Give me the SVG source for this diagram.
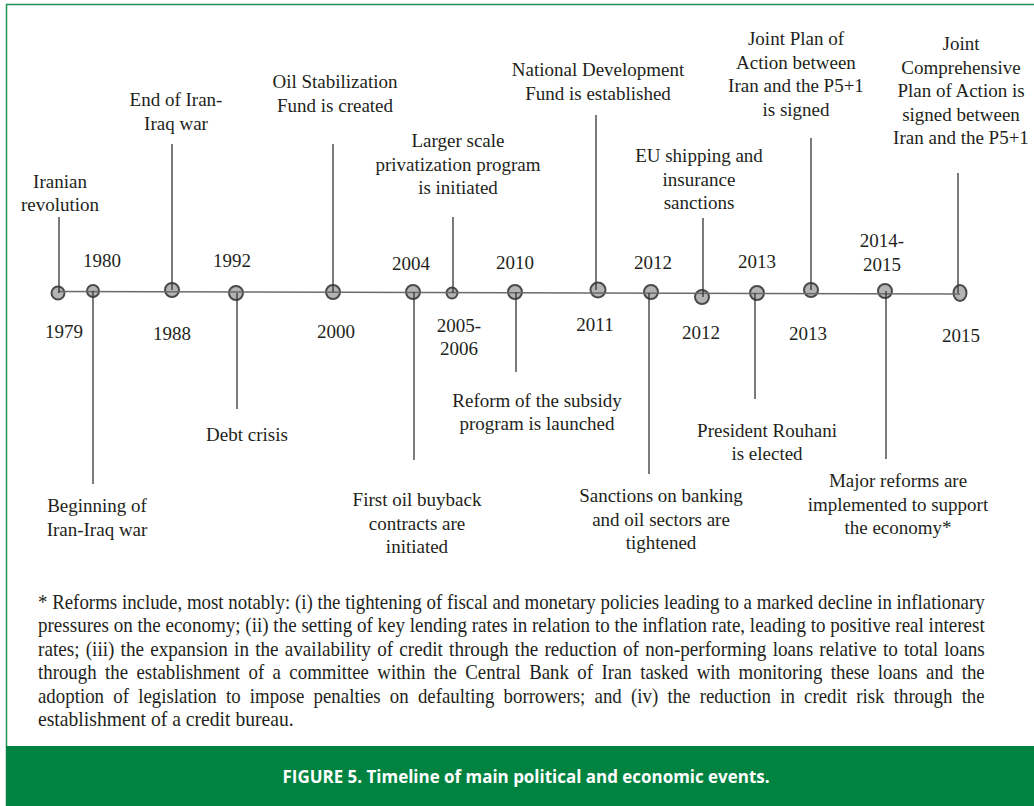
<svg xmlns="http://www.w3.org/2000/svg" width="1034" height="806" viewBox="0 0 1034 806">
  <style>
    .lbl { font-family: "Liberation Serif", "Times New Roman", serif; font-size: 19px; fill: #231f20; text-anchor: middle; }
    .note { font-family: "Liberation Serif", "Times New Roman", serif; font-size: 20.5px; fill: #231f20; }
    .cap { font-family: "Liberation Sans Narrow", "Open Sans", "Liberation Sans", sans-serif; font-size: 18px; font-weight: bold; fill: #ffffff; text-anchor: middle; }
    .dot { fill: #b3b4b6; stroke: #4a4a4a; stroke-width: 2; }
    .stem { stroke: #333333; stroke-width: 1.3; fill: none; }
    .axis { stroke: #6a6a6a; stroke-width: 1.6; fill: none; }
  </style>

  <!-- page background and green frame -->
  <rect x="0" y="0" width="1034" height="806" fill="#ffffff"/>
  <path d="M6.5,806 V4.5 H1034" fill="none" stroke="#1e9452" stroke-width="1.5"/>

  <!-- timeline events -->
  <g id="nodes">
    <g id="ev-1979">
      <circle class="dot" cx="58" cy="293" r="6.5"/>
      <text class="lbl" x="64" y="338">1979</text>
      <text class="lbl" x="60" y="188">Iranian</text>
      <text class="lbl" x="60" y="211">revolution</text>
    </g>
    <g id="ev-1980">
      <circle class="dot" cx="93" cy="291" r="6"/>
      <text class="lbl" x="102" y="267">1980</text>
      <text class="lbl" x="97" y="512">Beginning of</text>
      <text class="lbl" x="97" y="536">Iran-Iraq war</text>
    </g>
    <g id="ev-1988">
      <circle class="dot" cx="172" cy="290" r="7"/>
      <text class="lbl" x="172" y="340">1988</text>
      <text class="lbl" x="176" y="106">End of Iran-</text>
      <text class="lbl" x="176" y="130">Iraq war</text>
    </g>
    <g id="ev-1992">
      <circle class="dot" cx="236" cy="293" r="7"/>
      <text class="lbl" x="232" y="267">1992</text>
      <text class="lbl" x="247" y="441">Debt crisis</text>
    </g>
    <g id="ev-2000">
      <circle class="dot" cx="333" cy="292" r="7"/>
      <text class="lbl" x="336" y="338">2000</text>
      <text class="lbl" x="335" y="88">Oil Stabilization</text>
      <text class="lbl" x="335" y="112">Fund is created</text>
    </g>
    <g id="ev-2004">
      <circle class="dot" cx="413" cy="292" r="7"/>
      <text class="lbl" x="411" y="270">2004</text>
      <text class="lbl" x="417" y="506">First oil buyback</text>
      <text class="lbl" x="417" y="529.5">contracts are</text>
      <text class="lbl" x="417" y="553">initiated</text>
    </g>
    <g id="ev-2005">
      <circle class="dot" cx="452" cy="293" r="5.5"/>
      <text class="lbl" x="459" y="332">2005-</text>
      <text class="lbl" x="459" y="355">2006</text>
      <text class="lbl" x="458" y="147">Larger scale</text>
      <text class="lbl" x="458" y="170.5">privatization program</text>
      <text class="lbl" x="458" y="194">is initiated</text>
    </g>
    <g id="ev-2010">
      <circle class="dot" cx="515" cy="292" r="7"/>
      <text class="lbl" x="515" y="269">2010</text>
      <text class="lbl" x="537" y="407">Reform of the subsidy</text>
      <text class="lbl" x="537" y="430">program is launched</text>
    </g>
    <g id="ev-2011">
      <circle class="dot" cx="598" cy="290" r="7.5"/>
      <text class="lbl" x="595" y="331">2011</text>
      <text class="lbl" x="598" y="76">National Development</text>
      <text class="lbl" x="598" y="99.5">Fund is established</text>
    </g>
    <g id="ev-2012-banking">
      <circle class="dot" cx="651" cy="292" r="7"/>
      <text class="lbl" x="653" y="269">2012</text>
      <text class="lbl" x="661" y="502">Sanctions on banking</text>
      <text class="lbl" x="661" y="525.5">and oil sectors are</text>
      <text class="lbl" x="661" y="549">tightened</text>
    </g>
    <g id="ev-2012-shipping">
      <circle class="dot" cx="702" cy="297" r="7"/>
      <text class="lbl" x="701" y="339">2012</text>
      <text class="lbl" x="699" y="162">EU shipping and</text>
      <text class="lbl" x="699" y="185.5">insurance</text>
      <text class="lbl" x="699" y="209">sanctions</text>
    </g>
    <g id="ev-2013-election">
      <circle class="dot" cx="757" cy="293" r="7"/>
      <text class="lbl" x="757" y="268">2013</text>
      <text class="lbl" x="767" y="437">President Rouhani</text>
      <text class="lbl" x="767" y="460">is elected</text>
    </g>
    <g id="ev-2013-jpoa">
      <circle class="dot" cx="811" cy="290" r="7"/>
      <text class="lbl" x="808" y="340">2013</text>
      <text class="lbl" x="796" y="45">Joint Plan of</text>
      <text class="lbl" x="796" y="68.5">Action between</text>
      <text class="lbl" x="796" y="92">Iran and the P5+1</text>
      <text class="lbl" x="796" y="115.5">is signed</text>
    </g>
    <g id="ev-2014">
      <circle class="dot" cx="885" cy="291" r="7"/>
      <text class="lbl" x="882" y="247">2014-</text>
      <text class="lbl" x="882" y="270.5">2015</text>
      <text class="lbl" x="898" y="487">Major reforms are</text>
      <text class="lbl" x="898" y="510.5">implemented to support</text>
      <text class="lbl" x="898" y="534">the economy*</text>
    </g>
    <g id="ev-2015">
      <ellipse class="dot" cx="960" cy="293" rx="6.5" ry="8"/>
      <text class="lbl" x="961" y="342">2015</text>
      <text class="lbl" x="961" y="50">Joint</text>
      <text class="lbl" x="961" y="73.5">Comprehensive</text>
      <text class="lbl" x="961" y="97">Plan of Action is</text>
      <text class="lbl" x="961" y="120.5">signed between</text>
      <text class="lbl" x="961" y="144">Iran and the P5+1</text>
    </g>
  </g>

  <!-- axis and leader lines, drawn over the markers -->
  <g id="connectors">
    <line class="axis" x1="58" y1="291.5" x2="960" y2="294"/>
    <line class="stem" x1="59" y1="217" x2="59" y2="293"/>
    <line class="stem" x1="93" y1="291" x2="93" y2="484"/>
    <line class="stem" x1="172" y1="144" x2="172" y2="290"/>
    <line class="stem" x1="237" y1="293" x2="237" y2="409"/>
    <line class="stem" x1="333" y1="144" x2="333" y2="292"/>
    <line class="stem" x1="414" y1="292" x2="414" y2="460"/>
    <line class="stem" x1="453" y1="217" x2="453" y2="293"/>
    <line class="stem" x1="516" y1="292" x2="516" y2="372"/>
    <line class="stem" x1="596" y1="115" x2="596" y2="290"/>
    <line class="stem" x1="649" y1="293" x2="649" y2="474"/>
    <line class="stem" x1="703" y1="218" x2="703" y2="297"/>
    <line class="stem" x1="755" y1="293" x2="755" y2="399"/>
    <line class="stem" x1="811" y1="138" x2="811" y2="290"/>
    <line class="stem" x1="886" y1="291" x2="886" y2="459"/>
    <line class="stem" x1="958" y1="173" x2="958" y2="293"/>
  </g>

  <!-- footnote on the reforms: justified, horizontally condensed serif -->
  <g id="footnote" transform="matrix(0.92 0 0 1 38 0)">
    <text class="note" x="0" y="609" textLength="1029" lengthAdjust="spacingAndGlyphs">* Reforms include, most notably: (i) the tightening of fiscal and monetary policies leading to a marked decline in inflationary</text>
    <text class="note" x="0" y="632.5" textLength="1029" lengthAdjust="spacingAndGlyphs">pressures on the economy; (ii) the setting of key lending rates in relation to the inflation rate, leading to positive real interest</text>
    <text class="note" x="0" y="656" word-spacing="1.5" textLength="1029" lengthAdjust="spacingAndGlyphs">rates; (iii) the expansion in the availability of credit through the reduction of non-performing loans relative to total loans</text>
    <text class="note" x="0" y="679.5" word-spacing="4" textLength="1029" lengthAdjust="spacingAndGlyphs">through the establishment of a committee within the Central Bank of Iran tasked with monitoring these loans and the</text>
    <text class="note" x="0" y="703" word-spacing="4.9" textLength="1029" lengthAdjust="spacingAndGlyphs">adoption of legislation to impose penalties on defaulting borrowers; and (iv) the reduction in credit risk through the</text>
    <text class="note" x="0" y="726.5" textLength="278" lengthAdjust="spacingAndGlyphs">establishment of a credit bureau.</text>
  </g>

  <!-- caption bar -->
  <g id="caption">
    <rect x="6" y="746" width="1028" height="60" fill="#008341"/>
    <text class="cap" x="526" y="783" textLength="487" lengthAdjust="spacingAndGlyphs">FIGURE 5. Timeline of main political and economic events.</text>
  </g>
</svg>
